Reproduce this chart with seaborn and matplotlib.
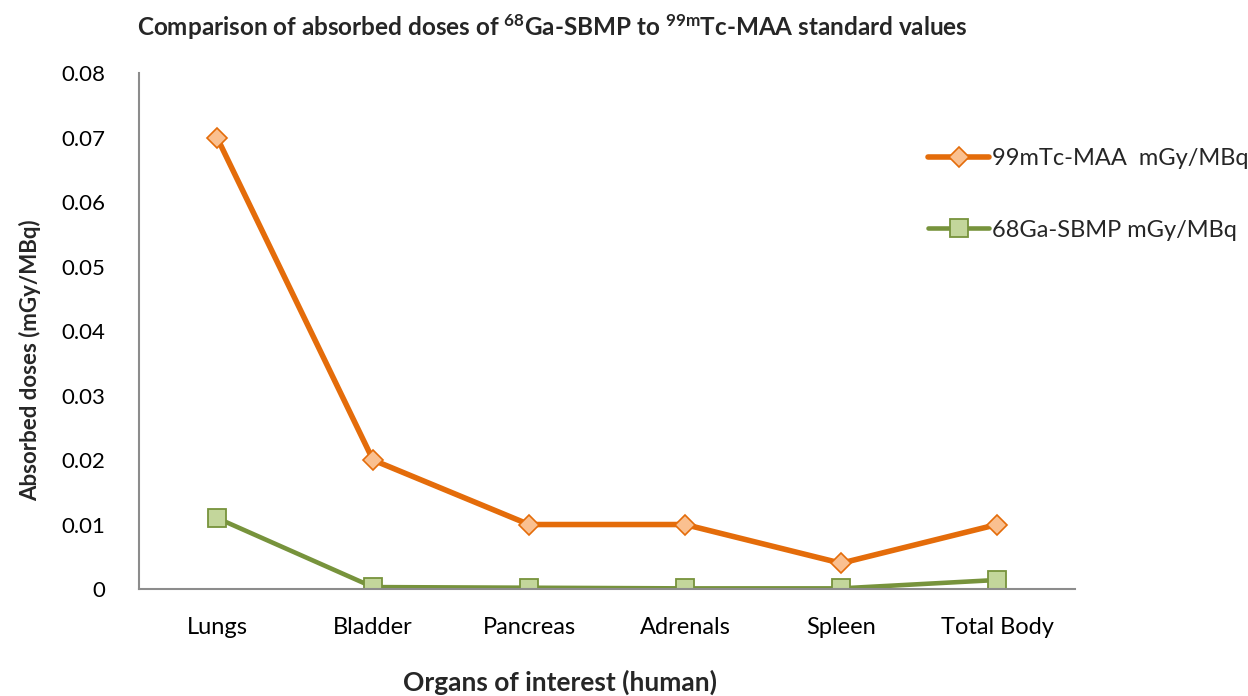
import matplotlib
matplotlib.use("Agg")
import matplotlib.pyplot as plt
import seaborn as sns
import pandas as pd

organs = ["Lungs", "Bladder", "Pancreas", "Adrenals", "Spleen", "Total Body"]
tc_maa = [0.07, 0.02, 0.01, 0.01, 0.004, 0.01]
ga_sbmp = [0.011, 0.0003, 0.0002, 0.0001, 0.0001, 0.0014]
series_names = ["99mTc-MAA  mGy/MBq", "68Ga-SBMP mGy/MBq"]
y_ticks = [0, 0.01, 0.02, 0.03, 0.04, 0.05, 0.06, 0.07, 0.08]
y_tick_labels = ["0", "0.01", "0.02", "0.03", "0.04", "0.05", "0.06", "0.07", "0.08"]

sns.set_theme(style="white")
plt.rcParams["font.family"] = ["Lato", "DejaVu Sans"]
plt.rcParams["mathtext.fontset"] = "custom"
plt.rcParams["mathtext.rm"] = "Lato:bold"
plt.rcParams["mathtext.default"] = "rm"

df = pd.DataFrame({
    "organ": organs * 2,
    "dose": tc_maa + ga_sbmp,
    "series": [series_names[0]] * len(organs) + [series_names[1]] * len(organs),
})

fig = plt.figure(figsize=(12.48, 6.96), dpi=100)
ax = fig.add_axes([0.1114, 0.1537, 0.75, 0.7414])

styles = {
    series_names[0]: dict(color="#E46C0A", marker="D", mfc="#FAC090", mec="#E46C0A",
                          ms=10, lw=4.0, mew=1.2),
    series_names[1]: dict(color="#77933C", marker="s", mfc="#C3D69B", mec="#77933C",
                          ms=12.5, lw=3.3, mew=1.3),
}
for name in series_names:
    st = styles[name]
    sns.lineplot(data=df[df["series"] == name], x="organ", y="dose", ax=ax,
                 color=st["color"], linewidth=st["lw"], marker=st["marker"],
                 markersize=st["ms"], markerfacecolor=st["mfc"],
                 markeredgecolor=st["mec"], markeredgewidth=st["mew"],
                 label=name, sort=False)

ax.set_xlim(-0.5, len(organs) - 0.5)
ax.set_ylim(0, 0.08)
ax.set_yticks(y_ticks)
ax.set_yticklabels(y_tick_labels)
ax.set_xticks(range(len(organs)))
ax.set_xticklabels(organs)
ax.tick_params(axis="both", length=0, colors="black")
ax.tick_params(axis="x", pad=20, labelsize=17)
ax.tick_params(axis="y", pad=24, labelsize=16)

for side in ["top", "right"]:
    ax.spines[side].set_visible(False)
for side in ["left", "bottom"]:
    ax.spines[side].set_color("#8C8C8C")
    ax.spines[side].set_linewidth(1.5)

ax.set_xlabel("")
ax.set_ylabel("")
fig.text(0.449, 0.019, "Organs of interest (human)", ha="center", va="center",
         fontsize=19, fontweight="bold")
fig.text(0.024, 0.482, "Absorbed doses (mGy/MBq)", ha="center", va="center",
         rotation=90, fontsize=16, fontweight="bold")
fig.text(0.443, 0.961,
         r"Comparison of absorbed doses of $^{68}$Ga-SBMP to $^{99m}$Tc-MAA standard values",
         ha="center", va="center", fontsize=17.5, fontweight="bold")

ax.legend(loc="upper left", bbox_to_anchor=(0.7436, 0.787),
          bbox_transform=fig.transFigure, frameon=False,
          fontsize=17, handlelength=2.6, handletextpad=0.1, labelspacing=2.13,
          borderaxespad=0.0, borderpad=0.0)

fig.savefig("out.png", dpi=100)
